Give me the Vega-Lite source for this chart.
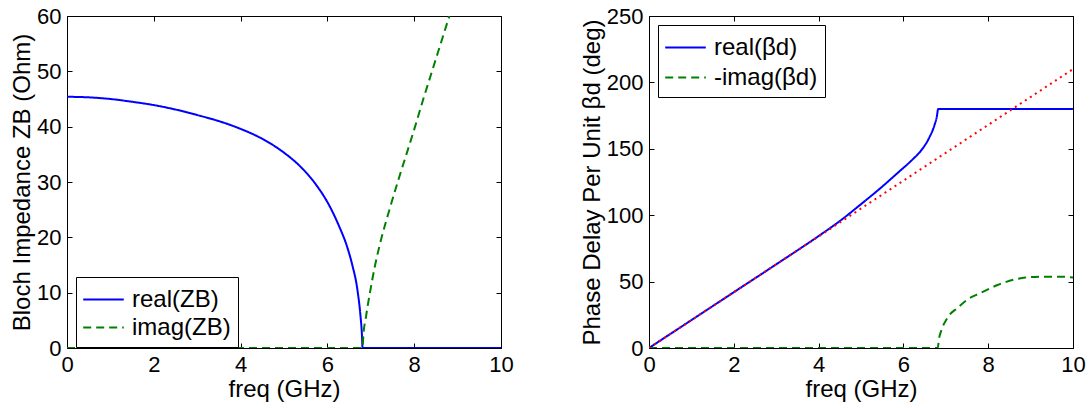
{
  "$schema": "https://vega.github.io/schema/vega-lite/v6.json",
  "padding": {"left": 10, "top": 4, "right": 4, "bottom": 4},
  "background": "white",
  "spacing": 65,
  "resolve": {
    "scale": {"color": "independent", "strokeDash": "independent"},
    "legend": {"color": "independent", "strokeDash": "independent"}
  },
  "config": {
    "font": "Liberation Sans",
    "view": {"stroke": "#000000", "strokeWidth": 1},
    "axis": {
      "grid": false, "domain": false,
      "tickSize": -5, "tickColor": "#000000", "tickWidth": 1,
      "labelFont": "Liberation Sans", "labelFontSize": 22, "labelColor": "#000000",
      "labelPadding": 11, "labelFlush": false, "labelOverlap": false,
      "titleFont": "Liberation Sans", "titleFontSize": 24, "titleFontWeight": "normal",
      "titleColor": "#000000", "titlePadding": 2
    },
    "legend": {
      "title": null, "orient": "none", "direction": "vertical",
      "strokeColor": "#000000", "fillColor": "#ffffff", "padding": 7,
      "symbolType": "M-1.4,0H1.4", "symbolSize": 841, "symbolStrokeWidth": 2,
      "symbolOffset": 5, "labelOffset": 13,
      "labelFont": "Liberation Sans", "labelFontSize": 24, "labelColor": "#000000",
      "labelLimit": 0
    }
  },
  "hconcat": [
    {
      "width": 434, "height": 332,
      "data": {"values": [
        {"s": "real(ZB)", "f": 0, "v": 45.4},
        {"s": "real(ZB)", "f": 0.5, "v": 45.3},
        {"s": "real(ZB)", "f": 1, "v": 45.0},
        {"s": "real(ZB)", "f": 1.5, "v": 44.5},
        {"s": "real(ZB)", "f": 2, "v": 43.9},
        {"s": "real(ZB)", "f": 2.5, "v": 43.1},
        {"s": "real(ZB)", "f": 3, "v": 42.1},
        {"s": "real(ZB)", "f": 3.5, "v": 41.0},
        {"s": "real(ZB)", "f": 4, "v": 39.6},
        {"s": "real(ZB)", "f": 4.5, "v": 37.8},
        {"s": "real(ZB)", "f": 5, "v": 35.3},
        {"s": "real(ZB)", "f": 5.35, "v": 33.0},
        {"s": "real(ZB)", "f": 5.73, "v": 29.6},
        {"s": "real(ZB)", "f": 6.04, "v": 25.8},
        {"s": "real(ZB)", "f": 6.27, "v": 22.0},
        {"s": "real(ZB)", "f": 6.45, "v": 18.4},
        {"s": "real(ZB)", "f": 6.57, "v": 15.1},
        {"s": "real(ZB)", "f": 6.69, "v": 10.6},
        {"s": "real(ZB)", "f": 6.76, "v": 6.0},
        {"s": "real(ZB)", "f": 6.795, "v": 2.5},
        {"s": "real(ZB)", "f": 6.81, "v": 0},
        {"s": "real(ZB)", "f": 10, "v": 0},
        {"s": "imag(ZB)", "f": 0, "v": 0},
        {"s": "imag(ZB)", "f": 6.81, "v": 0},
        {"s": "imag(ZB)", "f": 6.83, "v": 2.5},
        {"s": "imag(ZB)", "f": 6.88, "v": 5.2},
        {"s": "imag(ZB)", "f": 6.98, "v": 10},
        {"s": "imag(ZB)", "f": 7.10, "v": 15},
        {"s": "imag(ZB)", "f": 7.25, "v": 20},
        {"s": "imag(ZB)", "f": 7.43, "v": 25},
        {"s": "imag(ZB)", "f": 7.62, "v": 30},
        {"s": "imag(ZB)", "f": 7.82, "v": 35},
        {"s": "imag(ZB)", "f": 8.02, "v": 40},
        {"s": "imag(ZB)", "f": 8.21, "v": 45},
        {"s": "imag(ZB)", "f": 8.41, "v": 50},
        {"s": "imag(ZB)", "f": 8.61, "v": 55},
        {"s": "imag(ZB)", "f": 8.81, "v": 60}
      ]},
      "layer": [
        {
          "mark": {"type": "line", "strokeWidth": 2, "clip": true, "interpolate": "monotone"},
          "encoding": {
            "x": {"field": "f", "type": "quantitative", "scale": {"domain": [0, 10], "nice": false, "zero": false},
                  "axis": {"values": [0, 2, 4, 6, 8, 10], "title": "freq (GHz)"}},
            "y": {"field": "v", "type": "quantitative", "scale": {"domain": [0, 60], "nice": false},
                  "axis": {"values": [0, 10, 20, 30, 40, 50, 60], "title": "Bloch Impedance ZB (Ohm)"}},
            "color": {"field": "s", "type": "nominal",
                      "scale": {"domain": ["real(ZB)", "imag(ZB)"], "range": ["#0000ff", "#008000"]},
                      "legend": {"legendX": 9, "legendY": 261, "rowPadding": 0}},
            "strokeDash": {"field": "s", "type": "nominal",
                      "scale": {"domain": ["real(ZB)", "imag(ZB)"], "range": [[1, 0], [8, 5]]},
                      "legend": {"legendX": 9, "legendY": 261, "rowPadding": 0}}
          }
        },
        {
          "mark": {"type": "line", "opacity": 0},
          "encoding": {
            "x": {"field": "f", "type": "quantitative",
                  "axis": {"orient": "top", "values": [0, 2, 4, 6, 8, 10], "labels": false, "title": null}},
            "y": {"field": "v", "type": "quantitative",
                  "axis": {"orient": "right", "values": [0, 10, 20, 30, 40, 50, 60], "labels": false, "title": null}}
          }
        }
      ],
      "resolve": {"axis": {"x": "independent", "y": "independent"}}
    },
    {
      "width": 424, "height": 332,
      "data": {"values": [
        {"s": "real(βd)", "f": 0, "v": 0},
        {"s": "real(βd)", "f": 1, "v": 21},
        {"s": "real(βd)", "f": 2, "v": 42},
        {"s": "real(βd)", "f": 3, "v": 63},
        {"s": "real(βd)", "f": 4, "v": 84.3},
        {"s": "real(βd)", "f": 4.5, "v": 95.6},
        {"s": "real(βd)", "f": 5, "v": 108.3},
        {"s": "real(βd)", "f": 5.47, "v": 120.7},
        {"s": "real(βd)", "f": 5.87, "v": 132},
        {"s": "real(βd)", "f": 6.22, "v": 142.1},
        {"s": "real(βd)", "f": 6.42, "v": 148.8},
        {"s": "real(βd)", "f": 6.61, "v": 158.4},
        {"s": "real(βd)", "f": 6.73, "v": 167.5},
        {"s": "real(βd)", "f": 6.79, "v": 174.5},
        {"s": "real(βd)", "f": 6.82, "v": 180},
        {"s": "real(βd)", "f": 10, "v": 180},
        {"s": "-imag(βd)", "f": 0, "v": 0},
        {"s": "-imag(βd)", "f": 6.81, "v": 0},
        {"s": "-imag(βd)", "f": 6.84, "v": 7},
        {"s": "-imag(βd)", "f": 6.89, "v": 12.8},
        {"s": "-imag(βd)", "f": 7.04, "v": 22.8},
        {"s": "-imag(βd)", "f": 7.28, "v": 30.3},
        {"s": "-imag(βd)", "f": 7.52, "v": 36.7},
        {"s": "-imag(βd)", "f": 7.83, "v": 41.6},
        {"s": "-imag(βd)", "f": 8.22, "v": 47.4},
        {"s": "-imag(βd)", "f": 8.77, "v": 52.5},
        {"s": "-imag(βd)", "f": 9.25, "v": 53.7},
        {"s": "-imag(βd)", "f": 9.72, "v": 53.7},
        {"s": "-imag(βd)", "f": 10, "v": 53.0},
        {"s": "ref", "f": 0, "v": 0},
        {"s": "ref", "f": 10, "v": 210}
      ]},
      "layer": [
        {
          "transform": [{"filter": "datum.s !== 'ref'"}],
          "mark": {"type": "line", "strokeWidth": 2, "clip": true, "interpolate": "monotone"},
          "encoding": {
            "x": {"field": "f", "type": "quantitative", "scale": {"domain": [0, 10], "nice": false, "zero": false},
                  "axis": {"values": [0, 2, 4, 6, 8, 10], "title": "freq (GHz)"}},
            "y": {"field": "v", "type": "quantitative", "scale": {"domain": [0, 250], "nice": false},
                  "axis": {"values": [0, 50, 100, 150, 200, 250], "title": "Phase Delay Per Unit βd (deg)"}},
            "color": {"field": "s", "type": "nominal",
                      "scale": {"domain": ["real(βd)", "-imag(βd)"], "range": ["#0000ff", "#008000"]},
                      "legend": {"legendX": 9, "legendY": 9, "rowPadding": 2}},
            "strokeDash": {"field": "s", "type": "nominal",
                      "scale": {"domain": ["real(βd)", "-imag(βd)"], "range": [[1, 0], [8, 5]]},
                      "legend": {"legendX": 9, "legendY": 9, "rowPadding": 2}}
          }
        },
        {
          "transform": [{"filter": "datum.s === 'ref'"}],
          "mark": {"type": "line", "color": "#ff0000", "strokeWidth": 2, "strokeDash": [2, 4], "clip": true},
          "encoding": {
            "x": {"field": "f", "type": "quantitative",
                  "axis": {"orient": "top", "values": [0, 2, 4, 6, 8, 10], "labels": false, "title": null}},
            "y": {"field": "v", "type": "quantitative",
                  "axis": {"orient": "right", "values": [0, 50, 100, 150, 200, 250], "labels": false, "title": null}}
          }
        }
      ],
      "resolve": {"axis": {"x": "independent", "y": "independent"}}
    }
  ]
}
